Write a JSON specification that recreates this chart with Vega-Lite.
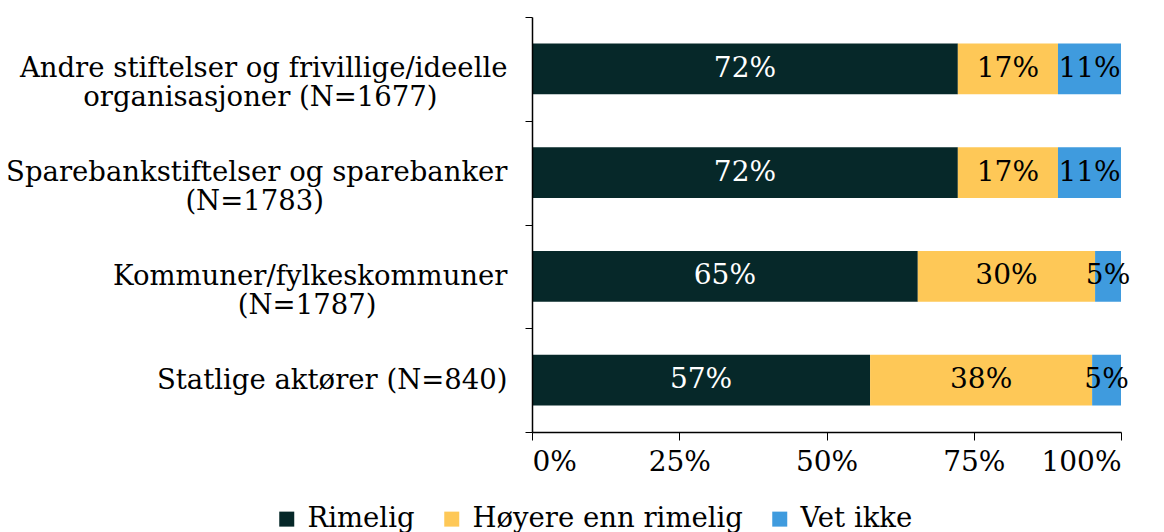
{
  "$schema": "https://vega.github.io/schema/vega-lite/v6.json",
  "width": 589,
  "height": 415,
  "autosize": {"type": "none"},
  "padding": {"left": 532, "top": 17, "right": 43, "bottom": 100},
  "background": "white",
  "config": {
    "font": "DejaVu Serif",
    "text": {"font": "DejaVu Serif"},
    "view": {"stroke": null}
  },
  "data": {
    "values": [
      {"kategori": "Andre stiftelser og frivillige/ideelle|organisasjoner (N=1677)", "svar": "Rimelig", "rekke": 1, "verdi": 72.3, "etikett": "72%"},
      {"kategori": "Andre stiftelser og frivillige/ideelle|organisasjoner (N=1677)", "svar": "Høyere enn rimelig", "rekke": 2, "verdi": 17.0, "etikett": "17%"},
      {"kategori": "Andre stiftelser og frivillige/ideelle|organisasjoner (N=1677)", "svar": "Vet ikke", "rekke": 3, "verdi": 10.7, "etikett": "11%"},
      {"kategori": "Sparebankstiftelser og sparebanker|(N=1783)", "svar": "Rimelig", "rekke": 1, "verdi": 72.3, "etikett": "72%"},
      {"kategori": "Sparebankstiftelser og sparebanker|(N=1783)", "svar": "Høyere enn rimelig", "rekke": 2, "verdi": 17.0, "etikett": "17%"},
      {"kategori": "Sparebankstiftelser og sparebanker|(N=1783)", "svar": "Vet ikke", "rekke": 3, "verdi": 10.7, "etikett": "11%"},
      {"kategori": "Kommuner/fylkeskommuner|(N=1787)", "svar": "Rimelig", "rekke": 1, "verdi": 65.5, "etikett": "65%"},
      {"kategori": "Kommuner/fylkeskommuner|(N=1787)", "svar": "Høyere enn rimelig", "rekke": 2, "verdi": 30.1, "etikett": "30%"},
      {"kategori": "Kommuner/fylkeskommuner|(N=1787)", "svar": "Vet ikke", "rekke": 3, "verdi": 4.4, "etikett": "5%"},
      {"kategori": "Statlige aktører (N=840)", "svar": "Rimelig", "rekke": 1, "verdi": 57.4, "etikett": "57%"},
      {"kategori": "Statlige aktører (N=840)", "svar": "Høyere enn rimelig", "rekke": 2, "verdi": 37.7, "etikett": "38%"},
      {"kategori": "Statlige aktører (N=840)", "svar": "Vet ikke", "rekke": 3, "verdi": 4.9, "etikett": "5%"}
    ]
  },
  "transform": [
    {"stack": "verdi", "groupby": ["kategori"], "sort": [{"field": "rekke", "order": "ascending"}], "as": ["v0", "v1"]},
    {"calculate": "(datum.v0 + datum.v1) / 2", "as": "midt"}
  ],
  "encoding": {
    "y": {
      "field": "kategori",
      "type": "nominal",
      "sort": null,
      "scale": {"paddingInner": 0, "paddingOuter": 0},
      "axis": {
        "title": null,
        "labelExpr": "indexof(datum.label, '|') > 0 ? [split(datum.label, '|')[0], split(datum.label, '|')[1] + pad('', indexof(datum.label, 'Andre') == 0 ? 8 : indexof(datum.label, 'Spare') == 0 ? 21 : 15, '\u00a0') + '\u200b'] : datum.label",
        "labelFont": "DejaVu Serif",
        "labelFontSize": 27.5,
        "labelLineHeight": 29,
        "labelAlign": "right",
        "labelBaseline": "middle",
        "labelColor": "black",
        "labelPadding": 18,
        "labelLimit": 0,
        "tickBand": "extent",
        "tickSize": 7,
        "tickColor": "black",
        "domainColor": "black",
        "domainWidth": 1.5,
        "zindex": 1
      }
    }
  },
  "layer": [
    {
      "mark": {"type": "bar", "height": {"band": 0.49}},
      "encoding": {
        "x": {
          "field": "v0",
          "type": "quantitative",
          "scale": {"domain": [0, 100], "nice": false},
          "axis": {
            "title": null,
            "values": [0, 25, 50, 75, 100],
            "labelExpr": "datum.value + '%'",
            "labelFont": "DejaVu Serif",
            "labelFontSize": 28,
            "labelColor": "black",
            "labelPadding": 8,
            "tickSize": 8,
            "tickColor": "black",
            "domainColor": "black",
            "domainWidth": 1.5,
            "grid": false
          }
        },
        "x2": {"field": "v1"},
        "color": {
          "field": "svar",
          "type": "nominal",
          "scale": {
            "domain": ["Rimelig", "Høyere enn rimelig", "Vet ikke"],
            "range": ["#062829", "#fec857", "#3f9bde"]
          },
          "legend": {
            "title": null,
            "orient": "none",
            "direction": "horizontal",
            "legendX": -259,
            "legendY": 488,
            "symbolType": "square",
            "symbolSize": 225,
            "symbolStrokeWidth": 0,
            "labelFont": "DejaVu Serif",
            "labelFontSize": 27.5,
            "labelColor": "black",
            "labelOffset": 7,
            "columnPadding": 23,
            "labelLimit": 0
          }
        }
      }
    },
    {
      "mark": {"type": "text", "font": "DejaVu Serif", "fontSize": 28, "baseline": "middle", "align": "center"},
      "encoding": {
        "x": {"field": "midt", "type": "quantitative"},
        "text": {"field": "etikett"},
        "color": {
          "condition": {"test": "datum.rekke == 1", "value": "white"},
          "value": "black"
        }
      }
    }
  ]
}
